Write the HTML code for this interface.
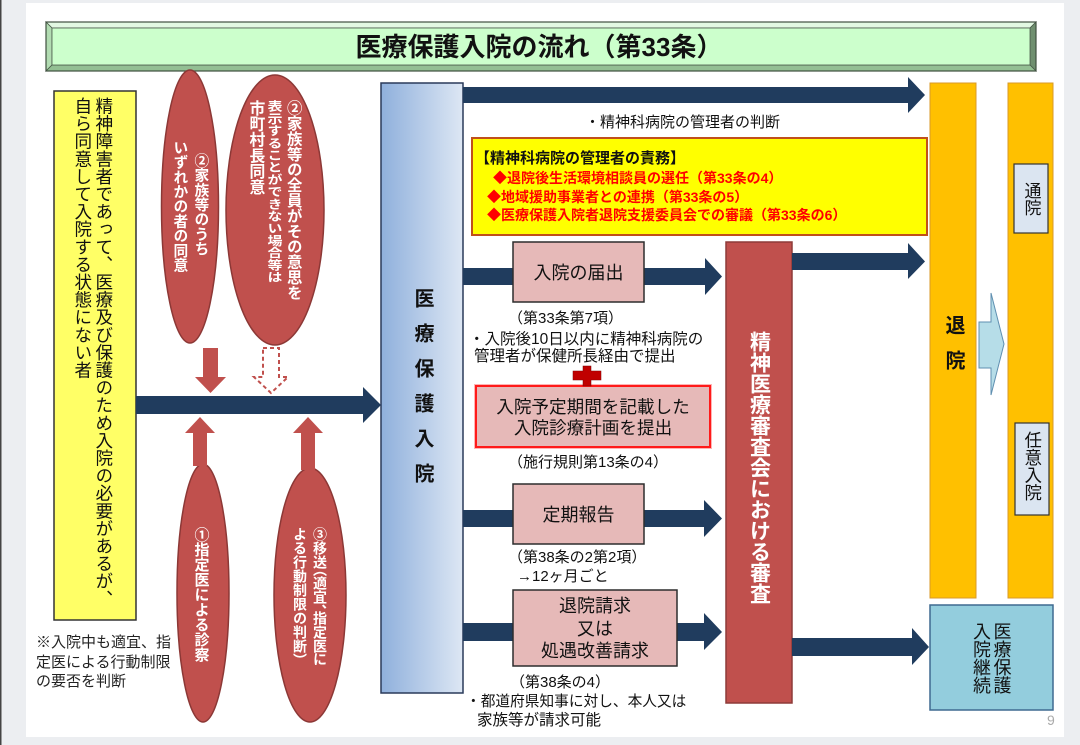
<!DOCTYPE html>
<html lang="ja">
<head>
<meta charset="utf-8">
<style>
  html,body{margin:0;padding:0;}
  body{width:1080px;height:745px;position:relative;overflow:hidden;background:#eceef1;
       font-family:"Liberation Sans","Noto Sans CJK JP",sans-serif;color:#111;}
  svg{position:absolute;left:0;top:0;}
  .t{position:absolute;white-space:nowrap;line-height:1;}
  .v{position:absolute;writing-mode:vertical-rl;white-space:nowrap;line-height:1;}
  .w{color:#fff;font-weight:bold;}
  .box{position:absolute;display:flex;align-items:center;justify-content:center;text-align:center;}
  .red{color:#ff0000;font-weight:bold;font-size:14px;}
</style>
</head>
<body>
<svg width="1080" height="745" viewBox="0 0 1080 745">
  <defs>
    <linearGradient id="gb" x1="0" y1="0" x2="1" y2="0">
      <stop offset="0" stop-color="#8fb0dc"/>
      <stop offset="1" stop-color="#dde7f4"/>
    </linearGradient>
  </defs>
  <rect x="0" y="0" width="1080" height="745" fill="#eceef1"/>
  <rect x="0" y="0" width="1.5" height="745" fill="#444"/>
  <rect x="26" y="3" width="1038" height="734" fill="#ffffff"/>

  <!-- Title bar -->
  <polygon points="46,22 1036,22 1030,28 52,28" fill="#e2f8e2" stroke="#4a5a4a" stroke-width="0.8"/>
  <polygon points="46,22 52,28 52,65 46,71" fill="#b2dcb2" stroke="#4a5a4a" stroke-width="0.8"/>
  <polygon points="1036,22 1036,71 1030,65 1030,28" fill="#6f8f6f" stroke="#4a5a4a" stroke-width="0.8"/>
  <polygon points="46,71 52,65 1030,65 1036,71" fill="#93bf93" stroke="#4a5a4a" stroke-width="0.8"/>
  <rect x="52" y="28" width="978" height="37" fill="#ccffcc" stroke="#4a5a4a" stroke-width="0.8"/>
  <rect x="46" y="22" width="990" height="49" fill="none" stroke="#3f4f3f" stroke-width="1.2"/>

  <!-- Left yellow box -->
  <rect x="54" y="91" width="82" height="529" fill="#ffff66" stroke="#333" stroke-width="1.5"/>

  <!-- Ovals -->
  <ellipse cx="190" cy="206.5" rx="28.5" ry="136.5" fill="#c0504d" stroke="#8c3836" stroke-width="1.5"/>
  <ellipse cx="275" cy="210" rx="49" ry="135" fill="#c0504d" stroke="#8c3836" stroke-width="1.5"/>
  <ellipse cx="203" cy="593" rx="26" ry="129" fill="#c0504d" stroke="#8c3836" stroke-width="1.5"/>
  <ellipse cx="310" cy="595" rx="36" ry="127" fill="#c0504d" stroke="#8c3836" stroke-width="1.5"/>

  <!-- Red arrows -->
  <polygon points="203,348 218,348 218,377 226,377 210.5,393 195,377 203,377" fill="#c0504d"/>
  <polygon points="263,348 279,348 279,377 288,377 271,393 254,377 263,377" fill="#ffffff" stroke="#c0504d" stroke-width="2" stroke-dasharray="4,3"/>
  <polygon points="200,417 215,433 207,433 207,466 193,466 193,433 185,433" fill="#c0504d"/>
  <polygon points="308,417 323,433 315,433 315,470 301,470 301,433 293,433" fill="#c0504d"/>

  <!-- Main left navy arrow -->
  <polygon points="136,396 363,396 363,387 381,405 363,423 363,414 136,414" fill="#203c5e"/>

  <!-- Blue column -->
  <rect x="381" y="83" width="82" height="610" fill="url(#gb)" stroke="#2a3a5a" stroke-width="1.5"/>

  <!-- Top navy arrow -->
  <polygon points="463,87 908,87 908,77 925,95 908,113 908,103 463,103" fill="#203c5e"/>

  <!-- Responsibility box -->
  <rect x="472" y="138" width="455" height="97" fill="#ffff00" stroke="#c0501a" stroke-width="2"/>

  <!-- Row arrows (left part to review column) -->
  <polygon points="463,268 705,268 705,258 722,276.5 705,295 705,285 463,285" fill="#203c5e"/>
  <polygon points="463,510 704,510 704,500 722,518.5 704,537 704,527 463,527" fill="#203c5e"/>
  <polygon points="463,623 704,623 704,613 722,632 704,650 704,641 463,641" fill="#203c5e"/>

  <!-- Pink boxes -->
  <rect x="513" y="242" width="131" height="60" fill="#e6b9b8" stroke="#2d2d2d" stroke-width="1.5"/>
  <rect x="476" y="386" width="234" height="61" fill="#e6b9b8" stroke="#ff1a1a" stroke-width="2"/>
  <rect x="474.5" y="384.5" width="237" height="64" fill="none" stroke="#ff8080" stroke-width="1" opacity="0.6"/>
  <rect x="513" y="484" width="131" height="60" fill="#e6b9b8" stroke="#2d2d2d" stroke-width="1.5"/>
  <rect x="513" y="590" width="164" height="76" fill="#e6b9b8" stroke="#2d2d2d" stroke-width="1.5"/>

  <!-- Red cross -->
  <rect x="573" y="371" width="28" height="9" fill="#c00000" stroke="#700" stroke-width="0.5"/>
  <rect x="583" y="366" width="8" height="20" fill="#c00000" stroke="#700" stroke-width="0.5"/>
  <rect x="573.3" y="371.3" width="27.4" height="8.4" fill="#c00000"/>

  <!-- Review column -->
  <rect x="726" y="242" width="66" height="461" fill="#c0504d" stroke="#8e3b39" stroke-width="1.5"/>

  <!-- Right arrows -->
  <polygon points="792,253 908,253 908,243 925,261.5 908,279 908,270 792,270" fill="#203c5e"/>
  <polygon points="792,638 912,638 912,628 929,647 912,665 912,656 792,656" fill="#203c5e"/>

  <!-- Orange columns -->
  <rect x="930" y="83" width="46" height="515" fill="#ffc000" stroke="#d89a28" stroke-width="1"/>
  <rect x="1008" y="83" width="45" height="515" fill="#ffc000" stroke="#d89a28" stroke-width="1"/>
  <rect x="1014" y="164" width="34" height="69" fill="#dbe5f1" stroke="#333" stroke-width="1.2"/>
  <rect x="1015" y="423" width="34" height="92" fill="#dbe5f1" stroke="#333" stroke-width="1.2"/>

  <!-- Light blue arrow -->
  <polygon points="979,322 991,322 991,293 1004,344 991,395 991,368 979,368" fill="#b6dde8" stroke="#5f8fb0" stroke-width="1"/>

  <!-- Continued box -->
  <rect x="930" y="605" width="123" height="105" fill="#93cddd" stroke="#3f6a90" stroke-width="1.5"/>
</svg>

<!-- Title -->
<div class="t" style="left:46px;width:986px;top:34px;text-align:center;font-size:26px;font-weight:bold;">医療保護入院の流れ（第33条）</div>

<!-- Yellow box text -->
<div class="v" style="left:94.2px;top:97px;font-size:17.6px;">精神障害者であって、医療及び保護のため入院の必要があるが、</div>
<div class="v" style="left:73.2px;top:97px;font-size:17.6px;">自ら同意して入院する状態にない者</div>

<!-- Note -->
<div class="t" style="left:36px;top:633px;font-size:15px;line-height:19.5px;color:#222;">※入院中も適宜、指<br>定医による行動制限<br>の要否を判断</div>

<!-- Oval A -->
<div class="v w" style="left:192.6px;top:153px;font-size:14.7px;">②家族等のうち</div>
<div class="v w" style="left:171.6px;top:140px;font-size:14.7px;">いずれかの者の同意</div>

<!-- Oval B -->
<div class="v w" style="left:285.3px;top:100px;font-size:15.4px;">②家族等の全員がその意思を</div>
<div class="v w" style="left:266.5px;top:100px;font-size:15px;transform:scaleY(0.813);transform-origin:top center;">表示することができない場合等は</div>
<div class="v w" style="left:247.1px;top:100px;font-size:15.8px;">市町村長同意</div>

<!-- Oval C -->
<div class="v w" style="left:193.5px;top:527px;font-size:15px;">①指定医による診察</div>

<!-- Oval D -->
<div class="v w" style="left:313px;top:527px;font-size:14px;font-feature-settings:'vpal';">③移送（適宜、指定医に</div>
<div class="v w" style="left:293px;top:527px;font-size:14px;">よる行動制限の判断）</div>

<!-- Blue column text -->
<div class="v" style="left:412px;top:288px;font-size:20px;font-weight:bold;letter-spacing:15px;">医療保護入院</div>

<!-- Top note -->
<div class="t" style="left:585px;top:115px;font-size:15px;">・精神科病院の管理者の判断</div>

<!-- Responsibility box text -->
<div class="t" style="left:475px;top:150.5px;font-size:15px;font-weight:bold;">【精神科病院の管理者の責務】</div>
<div class="t red" style="left:493px;top:171px;">◆退院後生活環境相談員の選任（第33条の4）</div>
<div class="t red" style="left:487px;top:190px;">◆地域援助事業者との連携（第33条の5）</div>
<div class="t red" style="left:487px;top:208px;">◆医療保護入院者退院支援委員会での審議（第33条の6）</div>

<!-- Pink box texts -->
<div class="box" style="left:513px;top:242px;width:131px;height:60px;font-size:18px;">入院の届出</div>
<div class="t" style="left:508px;top:310.5px;font-size:15px;">（第33条第7項）</div>
<div class="t" style="left:469px;top:332px;font-size:15.5px;">・入院後10日以内に精神科病院の</div>
<div class="t" style="left:474px;top:349px;font-size:15.5px;">管理者が保健所長経由で提出</div>

<div class="box" style="left:476px;top:386px;width:234px;height:63px;font-size:17.6px;line-height:20.5px;">入院予定期間を記載した<br>入院診療計画を提出</div>
<div class="t" style="left:508px;top:455px;font-size:15px;">（施行規則第13条の4）</div>

<div class="box" style="left:513px;top:484px;width:131px;height:60px;font-size:18px;">定期報告</div>
<div class="t" style="left:508px;top:550px;font-size:15px;">（第38条の2第2項）</div>
<div class="t" style="left:517px;top:569px;font-size:15px;">→12ヶ月ごと</div>

<div class="box" style="left:513px;top:590px;width:164px;height:78px;font-size:18px;line-height:22.5px;">退院請求<br>又は<br>処遇改善請求</div>
<div class="t" style="left:510px;top:675px;font-size:15px;">（第38条の4）</div>
<div class="t" style="left:466px;top:694.5px;font-size:14.7px;">・都道府県知事に対し、本人又は</div>
<div class="t" style="left:477px;top:712.5px;font-size:15.5px;">家族等が請求可能</div>

<!-- Review column text -->
<div class="v w" style="left:748.5px;top:331px;font-size:21px;">精神医療審査会における審査</div>

<!-- Right side texts -->
<div class="v" style="left:943px;top:315px;font-size:20px;font-weight:bold;letter-spacing:15px;">退院</div>
<div class="v" style="left:1022.5px;top:181.5px;font-size:17px;">通院</div>
<div class="v" style="left:1023.2px;top:431px;font-size:17.5px;">任意入院</div>
<div class="v" style="left:992.5px;top:622px;font-size:18px;">医療保護</div>
<div class="v" style="left:972px;top:622px;font-size:18px;">入院継続</div>

<div class="t" style="left:1047px;top:713px;font-size:14px;color:#aaa;">9</div>
</body>
</html>
